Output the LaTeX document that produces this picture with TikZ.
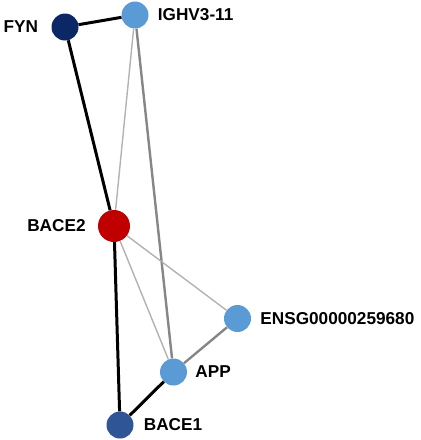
\documentclass[tikz,border=0pt]{standalone}
\usepackage{fontspec}
\setmainfont{Liberation Sans}
\usetikzlibrary{positioning}
\definecolor{navy}{HTML}{0B2766}
\definecolor{midblue}{HTML}{2F5597}
\definecolor{lightblue}{HTML}{5B9BD5}
\definecolor{hubred}{HTML}{C00000}

\begin{document}
\begin{tikzpicture}[
  x=1pt, y=-1pt,
  font=\bfseries\fontsize{17.2}{19}\selectfont,
  gene/.style={circle, minimum size=27pt, inner sep=0pt},
  hub/.style={gene, minimum size=32pt, fill=hubred},
  lbl/.style={inner sep=0pt},
  strong/.style={line width=3pt, black},
  mid/.style={line width=2.4pt, gray!95},
  weak/.style={line width=1.4pt, gray!60}
]
\useasboundingbox (0,0) rectangle (421,440);
\node[gene, fill=navy] (fyn) at (65,27) {};
\node[gene, fill=lightblue] (ighv) at (135,15) {};
\node[hub] (bace2) at (114,226) {};
\node[gene, fill=lightblue] (ensg) at (237.5,318.5) {};
\node[gene, fill=lightblue] (app) at (173.5,372) {};
\node[gene, fill=midblue] (bace1) at (120,425) {};

\node[lbl, left=13pt of fyn] (fynlbl) {FYN};
\node[lbl, right=9pt of ighv] (ighvlbl) {IGHV3-11};
\node[lbl, left=12pt of bace2] (bace2lbl) {BACE2};
\node[lbl, right=9pt of ensg] (ensglbl) {ENSG00000259680};
\node[lbl, right=8pt of app] (applbl) {APP};
\node[lbl, right=10pt of bace1] (bace1lbl) {BACE1};

\draw[strong] (fyn) -- (ighv);
\draw[strong] (fyn) -- (bace2);
\draw[strong] (bace2) -- (bace1);
\draw[strong] (app) -- (bace1);
\draw[mid] (ighv) -- (app);
\draw[mid] (ensg) -- (app);
\draw[weak] (ighv) -- (bace2);
\draw[weak] (bace2) -- (ensg);
\draw[weak] (bace2) -- (app);
\end{tikzpicture}
\end{document}
